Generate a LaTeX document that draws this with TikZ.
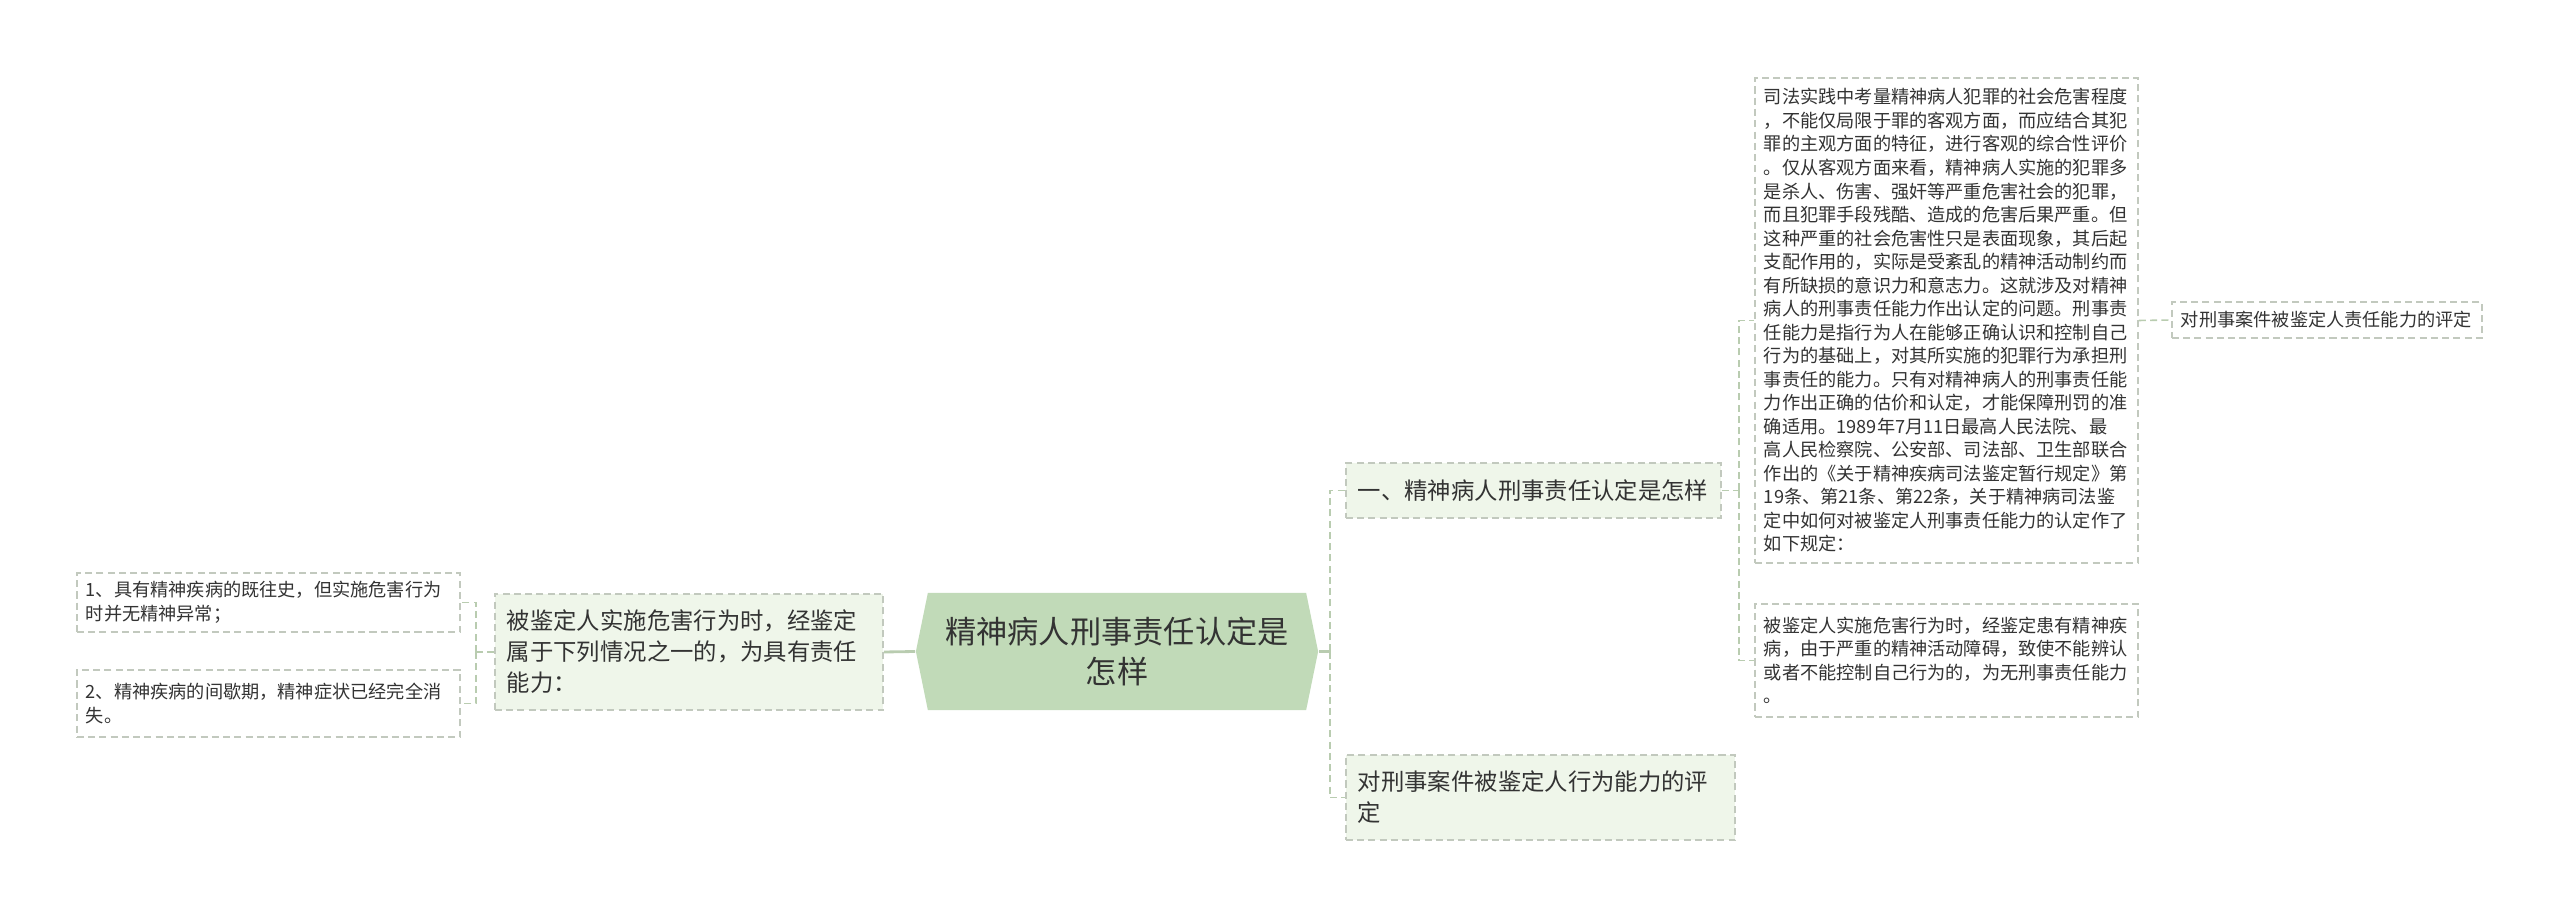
\documentclass[tikz,border=0pt]{standalone}
\usepackage{fontspec}
\newfontfamily\cjk{Noto Sans CJK SC}
\usetikzlibrary{positioning}
\definecolor{rootfill}{HTML}{C1DAB8}
\definecolor{topicfill}{HTML}{EFF6EA}
\definecolor{boxline}{HTML}{C2C9BE}
\definecolor{linkcol}{HTML}{B9CCB0}
\definecolor{txt}{HTML}{333333}
\tikzset{
  root node/.style={rectangle,minimum width=4.02cm,minimum height=1.17cm,inner sep=0pt,align=center,text=txt,
    font=\cjk\fontsize{8.88pt}{11.4pt}\selectfont,
    path picture={\fill[rootfill] (path picture bounding box.west)
      -- ([xshift=3.4pt]path picture bounding box.north west) -- ([xshift=-3.4pt]path picture bounding box.north east)
      -- (path picture bounding box.east)
      -- ([xshift=-3.4pt]path picture bounding box.south east) -- ([xshift=3.4pt]path picture bounding box.south west)
      -- cycle;}},
  topic node/.style={rectangle,draw=boxline,fill=topicfill,dash pattern=on 2pt off 1.2pt,line width=0.45pt,
    inner xsep=0.12cm,inner ysep=0pt,align=left,text=txt,font=\cjk\fontsize{6.64pt}{8.8pt}\selectfont},
  leaf node/.style={rectangle,draw=boxline,fill=white,dash pattern=on 2pt off 1.2pt,line width=0.45pt,
    inner xsep=0.09cm,inner ysep=0pt,text width=3.65cm,align=left,text=txt,font=\cjk\fontsize{5.17pt}{6.69pt}\selectfont},
  main link/.style={linkcol,line width=0.8pt},
  sub link/.style={linkcol,line width=0.45pt,dash pattern=on 2pt off 1.2pt},
}
\begin{document}
\begin{tikzpicture}[x=0.01cm,y=-0.01cm]
  \useasboundingbox (0,0) rectangle (2560,919);
  % centre and left side
  \node[root node] (root) at (1117,651.5) {精神病人刑事责任认定是\\怎样};
  \node[topic node,text width=3.64cm,minimum height=1.16cm] (cond) at (689,652)
    {被鉴定人实施危害行为时，经鉴定\\属于下列情况之一的，为具有责任\\能力：};
  \node[leaf node,minimum height=0.59cm] (hist) at (268.5,602.5)
    {1、具有精神疾病的既往史，但实施危害行为\\时并无精神异常；};
  \node[leaf node,minimum height=0.67cm] (gap) at (268.5,703.5)
    {2、精神疾病的间歇期，精神症状已经完全消\\失。};
  % right side
  \node[topic node,text width=3.51cm,minimum height=0.55cm] (how) at (1533.5,490.5)
    {一、精神病人刑事责任认定是怎样};
  \node[topic node,text width=3.65cm,minimum height=0.85cm] (act) at (1540.5,797.5)
    {对刑事案件被鉴定人行为能力的评\\定};
  \node[leaf node,minimum height=4.85cm] (prac) at (1946.5,320.5)
    {司法实践中考量精神病人犯罪的社会危害程度\\
     ，不能仅局限于罪的客观方面，而应结合其犯\\
     罪的主观方面的特征，进行客观的综合性评价\\
     。仅从客观方面来看，精神病人实施的犯罪多\\
     是杀人、伤害、强奸等严重危害社会的犯罪，\\
     而且犯罪手段残酷、造成的危害后果严重。但\\
     这种严重的社会危害性只是表面现象，其后起\\
     支配作用的，实际是受紊乱的精神活动制约而\\
     有所缺损的意识力和意志力。这就涉及对精神\\
     病人的刑事责任能力作出认定的问题。刑事责\\
     任能力是指行为人在能够正确认识和控制自己\\
     行为的基础上，对其所实施的犯罪行为承担刑\\
     事责任的能力。只有对精神病人的刑事责任能\\
     力作出正确的估价和认定，才能保障刑罚的准\\
     确适用。1989年7月11日最高人民法院、最\\
     高人民检察院、公安部、司法部、卫生部联合\\
     作出的《关于精神疾病司法鉴定暂行规定》第\\
     19条、第21条、第22条，关于精神病司法鉴\\
     定中如何对被鉴定人刑事责任能力的认定作了\\
     如下规定：};
  \node[leaf node,minimum height=1.13cm] (none) at (1946.5,660.5)
    {被鉴定人实施危害行为时，经鉴定患有精神疾\\
     病，由于严重的精神活动障碍，致使不能辨认\\
     或者不能控制自己行为的，为无刑事责任能力\\
     。};
  \node[leaf node,text width=2.92cm,minimum height=0.36cm] (eval) at (2327,320)
    {对刑事案件被鉴定人责任能力的评定};
  % links
  \draw[main link] (root.west) -- (cond.east);
  \draw[main link] (root.east) -- ++(11,0) coordinate (rfork);
  \draw[sub link] (rfork) |- (how.west);
  \draw[sub link] (rfork) |- (act.west);
  \draw[sub link] (cond.west) -- ++(-18,0) coordinate (lfork);
  \draw[sub link] (lfork) |- (hist.east);
  \draw[sub link] (lfork) |- (gap.east);
  \draw[sub link] (how.east) -- ++(17,0) coordinate (hfork);
  \draw[sub link] (hfork) |- (prac.west);
  \draw[sub link] (hfork) |- (none.west);
  \draw[sub link] (prac.east) -- (eval.west);
\end{tikzpicture}
\end{document}
